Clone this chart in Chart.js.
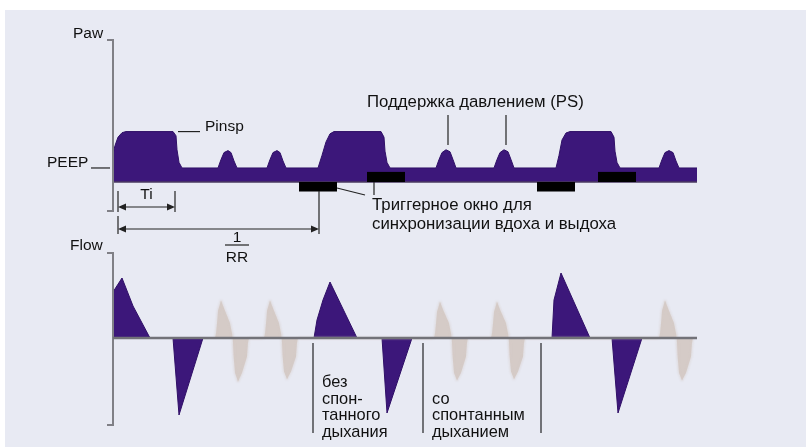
<!DOCTYPE html>
<html>
<head>
<meta charset="utf-8">
<script src="https://cdn.jsdelivr.net/npm/chart.js@4.4.1/dist/chart.umd.min.js"></script>
<style>
  html, body { margin: 0; padding: 0; background: #fff; }
  #wrap { position: relative; width: 806px; height: 447px; background: #fff; overflow: hidden; }
  #bg { position: absolute; left: 5px; top: 10px; right: 0; bottom: 0; background: #e8eaf3; }
  canvas { position: absolute; left: 0; top: 0; }
</style>
</head>
<body>
<div id="wrap">
  <div id="bg"></div>
  <canvas id="flow" width="806" height="447"></canvas>
  <canvas id="paw" width="806" height="447"></canvas>
</div>
<script>
// time in ms, pressure in cmH2O, flow in L/min (schematic)
const pawTime = [0, 50, 125, 225, 325, 1500, 1575, 1600, 1650, 1725,
  2625, 2700, 2775, 2875, 2950, 3025, 3100,
  3850, 3925, 4000, 4100, 4175, 4250, 4325,
  5125, 5225, 5325, 5425, 5525, 6700, 6775, 6800, 6850, 6925,
  8075, 8150, 8225, 8325, 8425, 8500, 8575,
  9525, 9600, 9675, 9775, 9875, 9950, 10025,
  11075, 11150, 11225, 11325, 11425, 12450, 12525, 12550, 12600, 12675,
  13650, 13725, 13800, 13900, 14000, 14075, 14150,
  14600];
const pawValue = [10, 13, 16, 17.6, 18, 18, 16.5, 11.5, 7, 5,
  5, 8, 10.5, 11.2, 10.5, 7.5, 5,
  5, 8, 10.5, 11.2, 10.5, 7.5, 5,
  5, 9.5, 14.3, 17.2, 18, 18, 16, 11, 7, 5,
  5, 8, 10.5, 11.5, 10.8, 8, 5,
  5, 8, 10.5, 11.5, 10.8, 8, 5,
  5, 9.5, 15, 17.5, 18, 18, 16, 11, 7, 5,
  5, 8, 10.5, 11.2, 10.5, 7.5, 5,
  5];

// mandatory breaths (purple)
const flowTime = [0, 0, 225, 500, 925,
  1500, 1650, 2250,
  5025, 5100, 5250, 5425, 6100,
  6725, 6850, 7475,
  10975, 11025, 11200, 11925,
  12475, 12625, 13225,
  14600];
const flowValue = [0, 36.8, 48, 25.6, 0,
  0, -61.6, 0,
  0, 14.4, 30.4, 44.8, 0,
  0, -60, 0,
  0, 30.4, 52, 0,
  0, -60, 0,
  0];

// spontaneous breaths (grey)
const spontTime = [
  2550, 2575, 2600, 2625, 2700, 2800, 2925, 2975, 2990, 3000, 3015, 3050, 3125, 3225, 3350, 3375, 3400,
  3775, 3800, 3825, 3850, 3925, 4025, 4150, 4200, 4215, 4225, 4240, 4275, 4350, 4450, 4575, 4600, 4625,
  8025, 8050, 8075, 8100, 8175, 8275, 8400, 8450, 8465, 8475, 8490, 8525, 8600, 8700, 8825, 8850, 8875,
  9450, 9475, 9500, 9525, 9600, 9700, 9825, 9875, 9890, 9900, 9915, 9950, 10025, 10125, 10250, 10275, 10300,
  13650, 13675, 13700, 13725, 13800, 13900, 14025, 14075, 14090, 14100, 14115, 14150, 14225, 14325, 14450, 14475, 14500];
const spontValue = [
  0, 4, 12, 22, 30, 22, 12, 4, 0, -4, -15, -28, -35, -28, -15, -4, 0,
  0, 4, 12, 22, 30, 22, 12, 4, 0, -4, -15, -27, -33, -27, -15, -4, 0,
  0, 4, 12, 21, 29, 21, 12, 4, 0, -4, -15, -28, -34, -28, -15, -4, 0,
  0, 4, 12, 21, 29, 21, 12, 4, 0, -4, -15, -27, -33, -27, -15, -4, 0,
  0, 4, 12, 22, 30, 22, 12, 4, 0, -4, -15, -28, -34, -28, -15, -4, 0];

// trigger windows
const triggerStart = [4650, 6350, 10600, 12125];
const triggerEnd = [5600, 7300, 11550, 13075];
const triggerLevel = [-3.4, 3.6, -3.4, 3.6];

const tiMarks = [125, 1550];
const rrMarks = [125, 5150];
const psMarks = [8375, 9825];
const phaseMarks = [5000, 7750, 10700];

const purple = '#3c177a';
const latinFont = '15.5px "Liberation Sans", Arial, sans-serif';
const cyrFont = '16.8px "Liberation Sans", Arial, sans-serif';
const smallCyrFont = '16.4px "Liberation Sans", Arial, sans-serif';
const inkColor = '#111';

function toPoints(xs, ys){
  return xs.map((t, i) => ({x: t, y: ys[i]}));
}

function seg(ctx, x1, y1, x2, y2){
  ctx.beginPath();
  ctx.moveTo(x1, y1);
  ctx.lineTo(x2, y2);
  ctx.stroke();
}

function arrow(ctx, x1, x2, y){
  seg(ctx, x1 + 2, y, x2 - 2, y);
  ctx.beginPath();
  ctx.moveTo(x1, y); ctx.lineTo(x1 + 8, y - 3.5); ctx.lineTo(x1 + 8, y + 3.5); ctx.closePath();
  ctx.fill();
  ctx.beginPath();
  ctx.moveTo(x2, y); ctx.lineTo(x2 - 8, y - 3.5); ctx.lineTo(x2 - 8, y + 3.5); ctx.closePath();
  ctx.fill();
}

function bracketAxis(ctx, a){
  ctx.strokeStyle = '#808086';
  ctx.lineWidth = 2;
  ctx.beginPath();
  ctx.moveTo(a.left - 6, a.top);
  ctx.lineTo(a.left, a.top);
  ctx.lineTo(a.left, a.bottom);
  ctx.lineTo(a.left - 6, a.bottom);
  ctx.stroke();
}

const pawNotes = {
  id: 'pawNotes',
  afterDatasetsDraw(chart){
    const ctx = chart.ctx, a = chart.chartArea;
    const x = chart.scales.x, y = chart.scales.y;
    const y0 = y.getPixelForValue(0);
    ctx.save();

    ctx.strokeStyle = '#4a3a60';
    ctx.lineWidth = 1.5;
    seg(ctx, a.left, y0, a.right, y0);

    ctx.fillStyle = '#000';
    for (let i = 0; i < triggerStart.length; i++){
      const x1 = x.getPixelForValue(triggerStart[i]);
      const x2 = x.getPixelForValue(triggerEnd[i]);
      const yb = y.getPixelForValue(triggerLevel[i]);
      ctx.fillRect(x1, Math.min(y0, yb), x2 - x1, Math.abs(yb - y0));
    }

    bracketAxis(ctx, a);

    ctx.strokeStyle = '#222';
    ctx.fillStyle = '#222';
    ctx.lineWidth = 1.2;
    // PEEP / Pinsp leaders
    seg(ctx, 91, y.getPixelForValue(5), 110, y.getPixelForValue(5));
    seg(ctx, 178, y.getPixelForValue(18), 200, y.getPixelForValue(18));
    // PS leaders
    psMarks.forEach(t => seg(ctx, x.getPixelForValue(t), 115, x.getPixelForValue(t), 145));
    // trigger leaders
    seg(ctx, x.getPixelForValue(triggerEnd[0]), 188, 365, 195);
    seg(ctx, x.getPixelForValue(triggerStart[1]) + 7, y0, x.getPixelForValue(triggerStart[1]) + 7, 195);

    // Ti
    const ti1 = x.getPixelForValue(tiMarks[0]), ti2 = x.getPixelForValue(tiMarks[1]);
    seg(ctx, ti1, 191, ti1, 212);
    seg(ctx, ti2, 191, ti2, 212);
    arrow(ctx, ti1, ti2, 207);
    // 1/RR
    const rr1 = x.getPixelForValue(rrMarks[0]), rr2 = x.getPixelForValue(rrMarks[1]);
    seg(ctx, rr1, 216, rr1, 234);
    seg(ctx, rr2, y0 + 9, rr2, 234);
    arrow(ctx, rr1, rr2, 229);
    seg(ctx, 225, 245, 249, 245);

    ctx.fillStyle = inkColor;
    ctx.textBaseline = 'alphabetic';
    ctx.textAlign = 'left';
    ctx.font = latinFont;
    ctx.fillText('Paw', 73, 38);
    ctx.fillText('PEEP', 47, 167);
    ctx.fillText('Pinsp', 205, 131);
    ctx.font = cyrFont;
    ctx.fillText('Поддержка давлением (PS)', 367, 107);
    ctx.fillText('Триггерное окно для', 372, 210);
    ctx.fillText('синхронизации вдоха и выдоха', 372, 229);
    ctx.font = latinFont;
    ctx.textAlign = 'center';
    ctx.fillText('Ti', (ti1 + ti2) / 2, 199);
    ctx.fillText('1', 237, 242);
    ctx.fillText('RR', 237, 262);
    ctx.restore();
  }
};

const flowNotes = {
  id: 'flowNotes',
  beforeDatasetDraw(chart, args){
    if (args.index === 0){
      chart.ctx.save();
      chart.ctx.filter = 'blur(1px)';
    }
  },
  afterDatasetDraw(chart, args){
    if (args.index === 0) chart.ctx.restore();
  },
  afterDatasetsDraw(chart){
    const ctx = chart.ctx, a = chart.chartArea;
    const x = chart.scales.x, y = chart.scales.y;
    const y0 = y.getPixelForValue(0);
    ctx.save();
    bracketAxis(ctx, a);
    ctx.strokeStyle = '#727278';
    ctx.lineWidth = 2.5;
    seg(ctx, a.left, y0, a.right, y0);

    ctx.strokeStyle = '#4a4a4e';
    ctx.lineWidth = 1.5;
    phaseMarks.forEach(t => seg(ctx, x.getPixelForValue(t), y0 + 5, x.getPixelForValue(t), 433));

    ctx.fillStyle = inkColor;
    ctx.textAlign = 'left';
    ctx.font = latinFont;
    ctx.fillText('Flow', 70, 250);
    ctx.font = smallCyrFont;
    const bx = x.getPixelForValue(phaseMarks[0]) + 9;
    ctx.fillText('без', bx, 387);
    ctx.fillText('спон-', bx, 404);
    ctx.fillText('танного', bx, 420);
    ctx.fillText('дыхания', bx, 437);
    const sx = x.getPixelForValue(phaseMarks[1]) + 9;
    ctx.fillText('со', sx, 404);
    ctx.fillText('спонтанным', sx, 420);
    ctx.fillText('дыханием', sx, 437);
    ctx.restore();
  }
};

const xScale = { type: 'linear', min: 0, max: 14600, display: false };

new Chart(document.getElementById('paw'), {
  type: 'line',
  data: {
    datasets: [{
      data: toPoints(pawTime, pawValue),
      fill: 'origin',
      backgroundColor: purple,
      borderColor: '#2f0f66',
      borderWidth: 1,
      pointRadius: 0,
      tension: 0
    }]
  },
  options: {
    responsive: false,
    animation: false,
    layout: { padding: { left: 113, right: 109, top: 40, bottom: 236 } },
    scales: {
      x: xScale,
      y: { min: -10.36, max: 50.7, display: false }
    },
    plugins: { legend: { display: false }, tooltip: { enabled: false } }
  },
  plugins: [pawNotes]
});

new Chart(document.getElementById('flow'), {
  type: 'line',
  data: {
    datasets: [{
      data: toPoints(spontTime, spontValue),
      fill: 'origin',
      backgroundColor: '#d5cbc7',
      borderColor: '#d5cbc7',
      borderWidth: 1,
      pointRadius: 0,
      tension: 0
    }, {
      data: toPoints(flowTime, flowValue),
      fill: 'origin',
      backgroundColor: purple,
      borderColor: '#2f0f66',
      borderWidth: 1,
      pointRadius: 0,
      tension: 0
    }]
  },
  options: {
    responsive: false,
    animation: false,
    layout: { padding: { left: 113, right: 109, top: 253, bottom: 22 } },
    scales: {
      x: xScale,
      y: { min: -69.6, max: 68, display: false }
    },
    plugins: { legend: { display: false }, tooltip: { enabled: false } }
  },
  plugins: [flowNotes]
});
</script>
</body>
</html>
